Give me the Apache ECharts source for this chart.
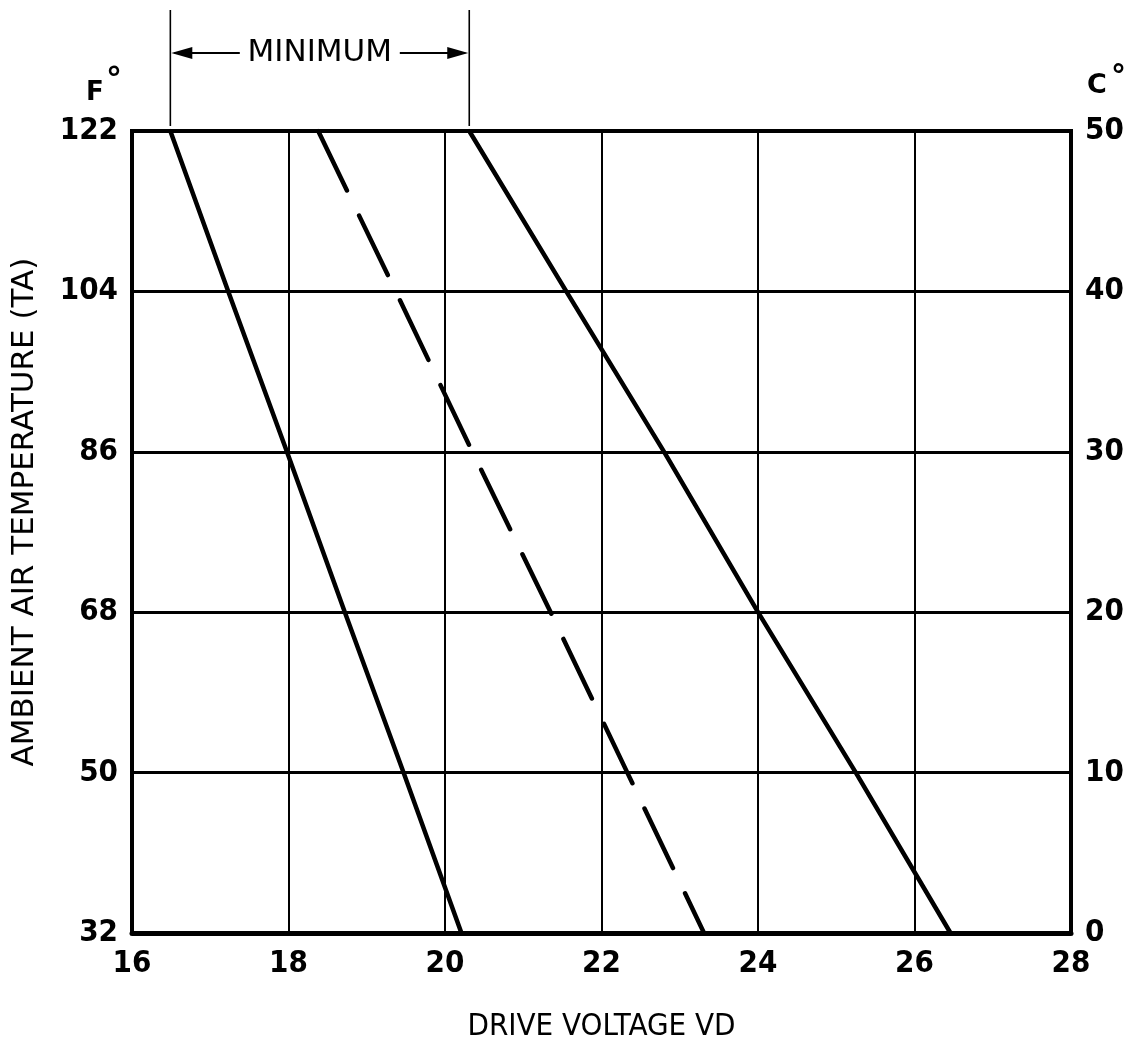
<!DOCTYPE html>
<html>
<head>
<meta charset="utf-8">
<script src="https://cdn.jsdelivr.net/npm/echarts@6/dist/echarts.min.js"></script>
<style>
  html, body { margin: 0; padding: 0; background: #fff; }
  #chart { width: 1131px; height: 1041px; }
</style>
</head>
<body>
<div id="chart"></div>
<script>
// Ambient air temperature (°F) at which each curve is read
const temperatureF = [122, 104, 86, 68, 50, 32];
// Drive voltage VD for each curve at those temperatures
const lowerLimitVd = [16.49, 17.23, 17.98, 18.72, 19.47, 20.21];
const typicalVd    = [18.38, 19.37, 20.35, 21.35, 22.33, 23.31];
const upperLimitVd = [20.31, 21.55, 22.80, 24.00, 25.25, 26.46];

// Axis ranges and steps
const voltageAxis = { min: 16, max: 28, step: 2 };
const fahrenheitAxis = { min: 32, max: 122, step: 18 };
const celsiusAxis = { min: 0, max: 50, step: 10 };

const INK = '#000';
const numberFont = '"Liberation Sans Narrow", "DejaVu Sans Condensed", sans-serif';
const titleFont = '"DejaVu Sans", sans-serif';
const narrowTitleFont = '"DejaVu Sans Condensed", "DejaVu Sans", sans-serif';

function pairs(vd) {
  return temperatureF.map((t, i) => [vd[i], t]);
}

const chart = echarts.init(document.getElementById('chart'), null, { renderer: 'canvas' });

const curveBase = {
  type: 'line',
  yAxisIndex: 0,
  showSymbol: false,
  symbol: 'none',
  silent: true,
  animation: false,
  z: 5
};

const numberLabel = {
  color: INK, fontFamily: numberFont, fontWeight: 'bold', fontSize: 31, margin: 14
};

const option = {
  animation: false,
  backgroundColor: '#fff',
  grid: {
    left: 132, right: 60, top: 131, bottom: 108,
    outerBoundsMode: 'none',
    containLabel: false,
    show: true, borderColor: INK, borderWidth: 4, backgroundColor: 'transparent'
  },
  xAxis: {
    type: 'value',
    min: voltageAxis.min, max: voltageAxis.max, interval: voltageAxis.step,
    axisLine: { show: true, lineStyle: { color: INK, width: 5 } },
    axisTick: { show: false },
    splitLine: { show: true, lineStyle: { color: INK, width: 2 } },
    axisLabel: Object.assign({}, numberLabel, { margin: 15 }),
    name: 'DRIVE VOLTAGE VD',
    nameLocation: 'middle',
    nameGap: 78,
    nameTextStyle: { color: INK, fontFamily: narrowTitleFont, fontSize: 31 }
  },
  yAxis: [
    {
      type: 'value', position: 'left',
      min: fahrenheitAxis.min, max: fahrenheitAxis.max, interval: fahrenheitAxis.step,
      axisLine: { show: false },
      axisTick: { show: false },
      splitLine: { show: true, lineStyle: { color: INK, width: 3 } },
      axisLabel: numberLabel,
      name: 'AMBIENT AIR TEMPERATURE (TA)',
      nameLocation: 'middle',
      nameGap: 92,
      nameTextStyle: { color: INK, fontFamily: titleFont, fontSize: 31, padding: [0, 0, 0, 40] }
    },
    {
      type: 'value', position: 'right',
      min: celsiusAxis.min, max: celsiusAxis.max, interval: celsiusAxis.step,
      axisLine: { show: false },
      axisTick: { show: false },
      splitLine: { show: false },
      axisLabel: numberLabel
    }
  ],
  series: [
    Object.assign({}, curveBase, {
      name: 'lower',
      data: pairs(lowerLimitVd),
      lineStyle: { color: INK, width: 4.5, cap: 'round' }
    }),
    Object.assign({}, curveBase, {
      name: 'typical',
      data: pairs(typicalVd),
      lineStyle: { color: INK, width: 4.5, type: [66, 28], cap: 'round' }
    }),
    Object.assign({}, curveBase, {
      name: 'upper',
      data: pairs(upperLimitVd),
      lineStyle: { color: INK, width: 4.5, cap: 'round' }
    })
  ]
};

chart.setOption(option);

// Unit captions above the two temperature scales and the "MINIMUM" span bracket
const topF = fahrenheitAxis.max;
const xLeft = chart.convertToPixel({ gridIndex: 0 }, [lowerLimitVd[0], topF])[0];
const xRight = chart.convertToPixel({ gridIndex: 0 }, [upperLimitVd[0], topF])[0];
const arrowY = 53;
const midX = (xLeft + xRight) / 2;
const head = 22, halfHead = 6;

chart.setOption({
  graphic: [
    { type: 'text', left: 86, top: 80, style: { text: 'F', fill: INK, font: 'bold 26px "DejaVu Sans", sans-serif' } },
    { type: 'text', left: 106, top: 66, style: { text: '°', fill: INK, font: 'bold 32px "DejaVu Sans", sans-serif' } },
    { type: 'text', left: 1087, top: 72, style: { text: 'C', fill: INK, font: 'bold 27px "DejaVu Sans", sans-serif' } },
    { type: 'text', left: 1111, top: 63, style: { text: '°', fill: INK, font: 'bold 30px "DejaVu Sans", sans-serif' } },

    { type: 'line', shape: { x1: xLeft, y1: 10, x2: xLeft, y2: 126 }, style: { stroke: INK, lineWidth: 1.6 } },
    { type: 'line', shape: { x1: xRight, y1: 10, x2: xRight, y2: 126 }, style: { stroke: INK, lineWidth: 1.6 } },

    { type: 'line', shape: { x1: xLeft + 4, y1: arrowY, x2: midX - 80, y2: arrowY }, style: { stroke: INK, lineWidth: 2 } },
    { type: 'polygon', shape: { points: [[xLeft + 1, arrowY], [xLeft + head, arrowY - halfHead], [xLeft + head, arrowY + halfHead]] }, style: { fill: INK } },
    { type: 'line', shape: { x1: midX + 80, y1: arrowY, x2: xRight - 4, y2: arrowY }, style: { stroke: INK, lineWidth: 2 } },
    { type: 'polygon', shape: { points: [[xRight - 1, arrowY], [xRight - head, arrowY - halfHead], [xRight - head, arrowY + halfHead]] }, style: { fill: INK } },

    {
      type: 'text', x: midX, y: arrowY,
      style: {
        text: 'MINIMUM', fill: INK, font: '31px "DejaVu Sans", sans-serif',
        textAlign: 'center', textVerticalAlign: 'middle'
      }
    }
  ]
});
</script>
</body>
</html>
